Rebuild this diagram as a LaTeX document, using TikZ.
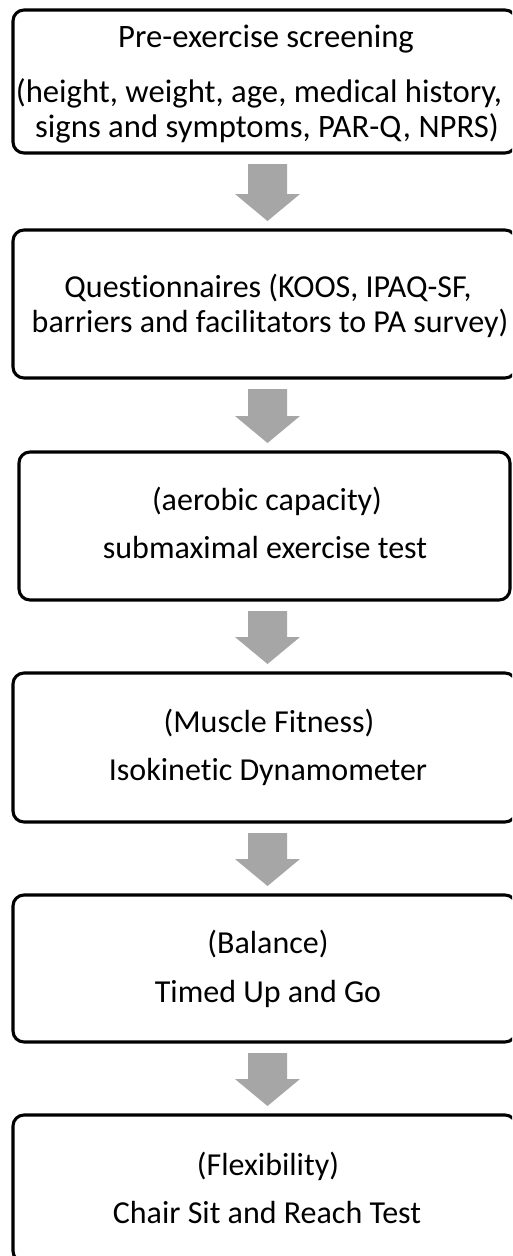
\documentclass[tikz,border=0pt]{standalone}
\usepackage{fontspec}
\setmainfont{Carlito}[Ligatures=NoCommon]
\usetikzlibrary{calc}
\definecolor{arrowgray}{HTML}{A6A6A6}
\tikzset{
  stepbox/.style={draw=black, line width=3.1pt, rounded corners=11pt, inner sep=0pt, outer sep=0pt, fill=white},
  linetext/.style={anchor=base, inner sep=0pt, font=\fontsize{32}{38}\selectfont},
  bigtext/.style={linetext, font=\fontsize{32.7}{38}\selectfont},
  fatarrow/.style={fill=arrowgray, draw=none}
}
\newcommand{\fatarrowbetween}[2]{%
  \fill[fatarrow] let \p1=(#1.south), \p2=(#2.north) in
    (248pt,\y1-11pt) -- (287pt,\y1-11pt) -- (287pt,\y2+36pt) -- (300pt,\y2+36pt)
    -- (267.5pt,\y2+9pt) -- (235pt,\y2+36pt) -- (248pt,\y2+36pt) -- cycle;}
\begin{document}
\begin{tikzpicture}[x=1pt,y=-1pt]
\useasboundingbox (0,0) rectangle (512,1256);
\clip (0,0) rectangle (512,1256);
\fill[white] (0,0) rectangle (512,1256);
% boxes
\node[stepbox, minimum width=503pt, minimum height=143pt] (b1) at (264.5,81.5) {};
\node[stepbox, minimum width=503pt, minimum height=148pt] (b2) at (264.5,304) {};
\node[stepbox, minimum width=491pt, minimum height=148pt] (b3) at (264.5,526) {};
\node[stepbox, minimum width=503pt, minimum height=149pt] (b4) at (264.5,747.5) {};
\node[stepbox, minimum width=503pt, minimum height=147pt] (b5) at (264.5,968.5) {};
\node[stepbox, minimum width=503pt, minimum height=147pt] (b6) at (264.5,1188.5) {};
% texts
\node[bigtext] (t1a) at (266,47) {Pre-exercise screening};
\node[bigtext] (t1b) at (259,102) {(height, weight, age, medical history,};
\node[bigtext] (t1c) at (267,137) {signs and symptoms, PAR-Q, NPRS)};
\node[linetext] (t2a) at (268,297) {Questionnaires (KOOS, IPAQ-SF,};
\node[linetext] (t2b) at (270,332) {barriers and facilitators to PA survey)};
\node[linetext] (t3a) at (267,510) {(aerobic capacity)};
\node[linetext] (t3b) at (265,558) {submaximal exercise test};
\node[linetext] (t4a) at (269,732) {(Muscle Fitness)};
\node[linetext] (t4b) at (268,780) {Isokinetic Dynamometer};
\node[linetext] (t5a) at (268,953) {(Balance)};
\node[linetext] (t5b) at (268,1002) {Timed Up and Go};
\node[linetext] (t6a) at (268,1175) {(Flexibility)};
\node[linetext] (t6b) at (267,1223) {Chair Sit and Reach Test};
% arrows
\fatarrowbetween{b1}{b2}
\fatarrowbetween{b2}{b3}
\fatarrowbetween{b3}{b4}
\fatarrowbetween{b4}{b5}
\fatarrowbetween{b5}{b6}
\end{tikzpicture}
\end{document}
